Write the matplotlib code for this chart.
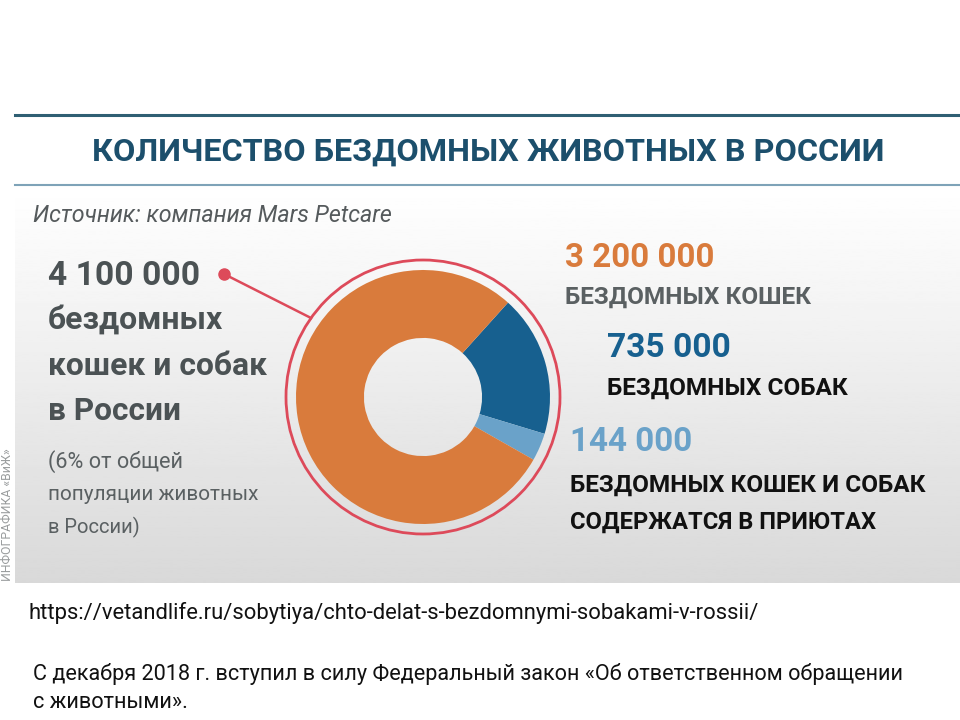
import matplotlib
matplotlib.use('Agg')
import matplotlib.pyplot as plt
import numpy as np
from matplotlib.patches import Circle

# data
LABELS = ['бездомных собак', 'в приютах', 'бездомных кошек']
VALUES = [735000, 144000, 3200000]
COLORS = ['#17608f', '#6aa2c9', '#d97b3c']

TITLE = 'КОЛИЧЕСТВО БЕЗДОМНЫХ ЖИВОТНЫХ В РОССИИ'
SOURCE = 'Источник: компания Mars Petcare'
TOTAL_LINES = ['4 100 000', 'бездомных', 'кошек и собак', 'в России']
NOTE_LINES = ['(6% от общей', 'популяции животных', 'в России)']
URL = 'https://vetandlife.ru/sobytiya/chto-delat-s-bezdomnymi-sobakami-v-rossii/'
LAW_LINES = ['С декабря 2018 г. вступил в силу Федеральный закон «Об ответственном обращении',
             'с животными».']

FONT = ['Roboto', 'DejaVu Sans']
W, H = 960, 720

fig = plt.figure(figsize=(W / 100, H / 100), dpi=100)
ax = fig.add_axes([0, 0, 1, 1])
ax.set_xlim(0, W)
ax.set_ylim(H, 0)
ax.axis('off')
renderer = fig.canvas.get_renderer()


def fit_text(x, y, s, width, **kw):
    ''' draw text and scale its size so it spans the given pixel width '''
    t = ax.text(x, y, s, family=FONT, **kw)
    w = t.get_window_extent(renderer).width
    t.set_fontsize(t.get_fontsize() * width / w)
    return t


# panel background gradient
grad = np.linspace(1.0, 0.85, 256).reshape(-1, 1)
ax.imshow(grad, extent=[15, W, 583, 188], cmap='gray', vmin=0, vmax=1,
          aspect='auto', zorder=0)
ax.add_patch(plt.Rectangle((15, 115), W - 15, 73, color='white', zorder=0))
ax.plot([15, W], [115, 115], color='#2f5f73', lw=2.2, zorder=1)
ax.plot([15, W], [185, 185], color='#7ea3b8', lw=1.5, zorder=1)

fit_text(488, 152, TITLE, 794, ha='center', va='center', fontsize=25,
         fontweight='bold', color='#1c4f6c')
fit_text(33, 215, SOURCE, 360, ha='left', va='center', fontsize=17,
         fontstyle='italic', color='#555a5c')

# left block
fit_text(48, 276, TOTAL_LINES[0], 152, ha='left', va='center', fontsize=30,
         fontweight='bold', color='#4b5254')
for txt, yy, ww in zip(TOTAL_LINES[1:], [320, 366, 411], [175, 219, 133]):
    fit_text(48, yy, txt, ww, ha='left', va='center', fontsize=30,
             fontweight='bold', color='#4b5254')
for txt, yy, ww in zip(NOTE_LINES, [462, 495, 527], [135, 210, 92]):
    fit_text(48, yy, txt, ww, ha='left', va='center', fontsize=20,
             color='#5a6062')
ax.text(8, 515, 'ИНФОГРАФИКА «ВиЖ»', rotation=90, ha='center', va='center',
        fontsize=8.8, color='#9a9d9e', family=FONT)

# connector
ax.plot([224, 311], [274, 318], color='#dd4a5a', lw=1.8, zorder=3)
ax.plot(224, 274, 'o', color='#dd4a5a', ms=8, zorder=3)
ax.add_patch(Circle((423, 397), 137, fill=False, ec='#dd4a5a', lw=2, zorder=3))

# donut
cx, cy, r = 423, 397, 127
dax = fig.add_axes([(cx - r) / W, (H - cy - r) / H, 2 * r / W, 2 * r / H])
dax.pie(VALUES, colors=COLORS, startangle=48, counterclock=False, radius=1,
        wedgeprops=dict(width=0.535, linewidth=0))
dax.set_xlim(-1, 1)
dax.set_ylim(-1, 1)
dax.set_aspect('equal')
dax.axis('off')

# right block
fit_text(565, 258, '3 200 000', 150, ha='left', va='center', fontsize=36,
         fontweight='bold', color='#d97b3c')
fit_text(565, 297, 'БЕЗДОМНЫХ КОШЕК', 245, ha='left', va='center', fontsize=20,
         fontweight='bold', color='#5a6062')
fit_text(607, 348, '735 000', 124, ha='left', va='center', fontsize=36,
         fontweight='bold', color='#17608f')
fit_text(607, 388, 'БЕЗДОМНЫХ СОБАК', 240, ha='left', va='center', fontsize=20,
         fontweight='bold', color='#111111')
fit_text(570, 442, '144 000', 123, ha='left', va='center', fontsize=36,
         fontweight='bold', color='#6aa2c9')
fit_text(570, 485, 'БЕЗДОМНЫХ КОШЕК И СОБАК', 354, ha='left', va='center',
         fontsize=20, fontweight='bold', color='#111111')
fit_text(570, 522, 'СОДЕРЖАТСЯ В ПРИЮТАХ', 306, ha='left', va='center',
         fontsize=20, fontweight='bold', color='#111111')

# footer
fit_text(28, 613, URL, 730, ha='left', va='center', fontsize=18,
         color='#111111')
fit_text(33, 674, LAW_LINES[0], 870, ha='left', va='center', fontsize=18,
         color='#111111')
fit_text(33, 703, LAW_LINES[1], 155, ha='left', va='center', fontsize=18,
         color='#111111')

fig.savefig('out.png', dpi=100)
